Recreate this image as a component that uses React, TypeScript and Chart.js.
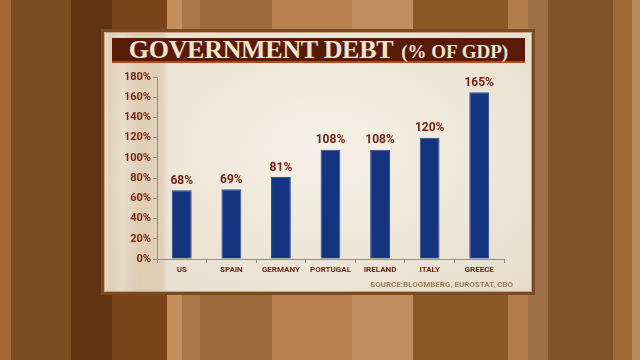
import React, { useEffect, useRef } from "react";
import { Chart, registerables } from "chart.js";

Chart.register(...registerables);

const countries = ["US", "SPAIN", "GERMANY", "PORTUGAL", "IRELAND", "ITALY", "GREECE"];
const debtPct = [68, 69, 81, 108, 108, 120, 165];
const yMax = 180;
const yStep = 20;
const titleMain = "GOVERNMENT DEBT";
const titleSub = "(% OF GDP)";
const sourceText = "SOURCE:BLOOMBERG, EUROSTAT, CBO";

const stripes =
  "linear-gradient(to right," +
  "#a66838 0px 11px,#7c4c22 11px 71px,#5f3512 71px 112px,#784418 112px 167px," +
  "#c48e5e 167px 182px,#a87848 182px 200px,#9c6a3a 200px 272px,#b8804e 272px 352px," +
  "#be8e5e 352px 413px,#8a5824 413px 508px,#b47e4c 508px 528px,#a07048 528px 548px," +
  "#7e5428 548px 613px,#a06a32 613px 632px,#bb8a58 632px 640px)";

const valueLabels = {
  id: "valueLabels",
  afterDatasetsDraw(chart: any) {
    const ctx = chart.ctx;
    const meta = chart.getDatasetMeta(0);
    const data = chart.data.datasets[0].data as number[];
    ctx.save();
    ctx.font = "bold 12px Roboto, 'DejaVu Sans', sans-serif";
    ctx.fillStyle = "#7a2010";
    ctx.textAlign = "center";
    ctx.textBaseline = "alphabetic";
    meta.data.forEach((el: any, i: number) => {
      ctx.fillText(`${data[i]}%`, el.x, el.y - 6.5);
    });
    ctx.restore();
  },
};

export default function App() {
  const ref = useRef<HTMLCanvasElement | null>(null);

  useEffect(() => {
    if (!ref.current) return;
    const chart = new Chart(ref.current, {
      type: "bar",
      data: {
        labels: countries,
        datasets: [
          {
            data: debtPct,
            backgroundColor: "#15347f",
            borderColor: "#2c4c94",
            borderWidth: 1,
            categoryPercentage: 1,
            barPercentage: 0.4,
          },
        ],
      },
      options: {
        responsive: false,
        animation: false,
        devicePixelRatio: 1,
        layout: { padding: { left: 0, right: 31, top: 48, bottom: 0 } },
        plugins: {
          legend: { display: false },
          tooltip: { enabled: false },
          title: { display: false },
        },
        scales: {
          x: {
            grid: {
              display: true,
              drawOnChartArea: false,
              drawTicks: true,
              tickLength: 4,
              color: "#8d8d8d",
              offset: true,
            },
            border: { display: true, color: "#8d8d8d", width: 1 },
            ticks: {
              color: "#6e2a18",
              font: { family: "Roboto, 'DejaVu Sans', sans-serif", size: 8, weight: "bold" },
              padding: 2,
              maxRotation: 0,
              autoSkip: false,
            },
            afterFit(scale: any) {
              scale.height = 36;
            },
          },
          y: {
            min: 0,
            max: yMax,
            ticks: {
              stepSize: yStep,
              color: "#7a2412",
              font: { family: "Roboto, 'DejaVu Sans', sans-serif", size: 11, weight: "bold" },
              padding: 2,
              callback: (v: any) => `${v}%`,
            },
            grid: {
              display: true,
              drawOnChartArea: false,
              drawTicks: true,
              tickLength: 4,
              color: "#8d8d8d",
            },
            border: { display: true, color: "#8d8d8d", width: 1 },
            afterFit(scale: any) {
              scale.width = 56;
            },
          },
        },
      },
      plugins: [valueLabels],
    });
    return () => chart.destroy();
  }, []);

  return (
    <div
      style={{
        position: "fixed",
        left: 0,
        top: 0,
        width: 640,
        height: 360,
        overflow: "hidden",
        background: stripes,
      }}
    >
      <div
        style={{
          position: "absolute",
          left: 101,
          top: 29,
          width: 434,
          height: 266,
          boxSizing: "border-box",
          border: "3px solid #7a4a22",
          boxShadow: "inset 0 0 0 1px #c8a47c",
          background:
            "linear-gradient(to right, rgba(200,170,130,0.0) 0px, rgba(200,165,120,0.28) 6px, rgba(200,165,120,0.10) 18px, rgba(200,165,120,0.32) 34px, rgba(200,165,120,0.30) 58px, rgba(200,165,120,0.0) 64px, rgba(0,0,0,0) 100%), radial-gradient(ellipse at 52% 45%, #f6f1e9 0%, #efe7da 45%, #e7dccb 100%)",
        }}
      />
      <div
        style={{
          position: "absolute",
          left: 112,
          top: 38,
          width: 413,
          height: 23,
          background: "#5a1a0a",
          borderBottom: "2px solid #b4481e",
          display: "flex",
          justifyContent: "center",
          alignItems: "baseline",
          color: "#efe4d0",
          fontFamily: "'Liberation Serif', 'DejaVu Serif', serif",
          fontWeight: "bold",
          whiteSpace: "nowrap",
          lineHeight: "23px",
        }}
      >
        <span style={{ fontSize: 26, letterSpacing: -0.3 }}>{titleMain}</span>
        <span style={{ fontSize: 19, marginLeft: 8 }}>{titleSub}</span>
      </div>
      <canvas
        ref={ref}
        width={434}
        height={266}
        style={{ position: "absolute", left: 101, top: 29, width: 434, height: 266 }}
      />
      <div
        style={{
          position: "absolute",
          left: 300,
          top: 280,
          width: 213,
          textAlign: "right",
          color: "#a07a55",
          fontFamily: "Roboto, 'DejaVu Sans', sans-serif",
          fontWeight: "bold",
          fontSize: 8,
          lineHeight: "10px",
          whiteSpace: "nowrap",
        }}
      >
        {sourceText}
      </div>
    </div>
  );
}
